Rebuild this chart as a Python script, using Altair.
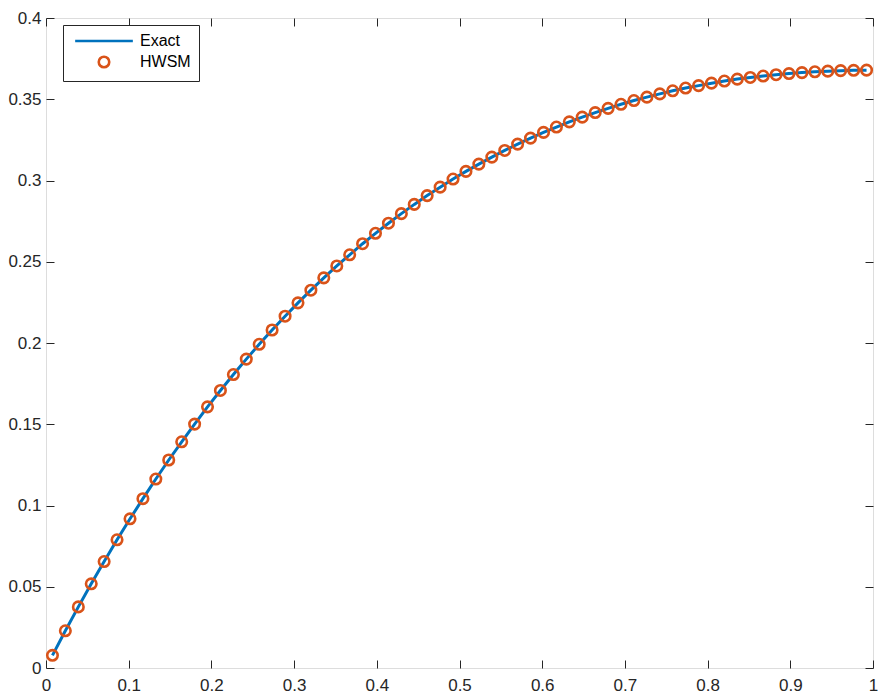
import altair as alt
import pandas as pd

x_vals = [0.0078, 0.0234, 0.0391, 0.0547, 0.0703, 0.0859, 0.1016, 0.1172,
          0.1328, 0.1484, 0.1641, 0.1797, 0.1953, 0.2109, 0.2266, 0.2422,
          0.2578, 0.2734, 0.2891, 0.3047, 0.3203, 0.3359, 0.3516, 0.3672,
          0.3828, 0.3984, 0.4141, 0.4297, 0.4453, 0.4609, 0.4766, 0.4922,
          0.5078, 0.5234, 0.5391, 0.5547, 0.5703, 0.5859, 0.6016, 0.6172,
          0.6328, 0.6484, 0.6641, 0.6797, 0.6953, 0.7109, 0.7266, 0.7422,
          0.7578, 0.7734, 0.7891, 0.8047, 0.8203, 0.8359, 0.8516, 0.8672,
          0.8828, 0.8984, 0.9141, 0.9297, 0.9453, 0.9609, 0.9766, 0.9922]
exact_vals = [0.0078, 0.0229, 0.0376, 0.0518, 0.0655, 0.0789, 0.0918, 0.1042,
              0.1163, 0.1280, 0.1392, 0.1501, 0.1607, 0.1708, 0.1806, 0.1901,
              0.1992, 0.2080, 0.2165, 0.2247, 0.2325, 0.2401, 0.2474, 0.2543,
              0.2611, 0.2675, 0.2737, 0.2796, 0.2853, 0.2907, 0.2959, 0.3009,
              0.3056, 0.3101, 0.3144, 0.3185, 0.3224, 0.3261, 0.3296, 0.3329,
              0.3361, 0.3390, 0.3418, 0.3444, 0.3469, 0.3492, 0.3513, 0.3533,
              0.3552, 0.3569, 0.3584, 0.3599, 0.3612, 0.3624, 0.3634, 0.3643,
              0.3651, 0.3658, 0.3664, 0.3669, 0.3673, 0.3676, 0.3678, 0.3679]
hwsm_vals = list(exact_vals)

series_names = ["Exact", "HWSM"]
x_ticks = [0, 0.1, 0.2, 0.3, 0.4, 0.5, 0.6, 0.7, 0.8, 0.9, 1]
y_ticks = [0, 0.05, 0.1, 0.15, 0.2, 0.25, 0.3, 0.35, 0.4]

df_line = pd.DataFrame({"x": x_vals, "y": exact_vals, "series": "Exact"})
df_pts = pd.DataFrame({"x": x_vals, "y": hwsm_vals, "series": "HWSM"})

BLUE = "#0072BD"
ORANGE = "#D95319"
TXT = "#262626"
FONT = "Liberation Sans"
TICK = 8

xscale = alt.Scale(domain=[0, 1], nice=False, zero=False)
yscale = alt.Scale(domain=[0, 0.4], nice=False, zero=False)
color_scale = alt.Scale(domain=series_names, range=[BLUE, ORANGE])
shape_scale = alt.Scale(domain=series_names, range=["M-5.5,0H5.5", "circle"])

legend = alt.Legend(
    title=None, orient="none", legendX=17, legendY=7,
    strokeColor=TXT, fillColor="white", padding=8,
    symbolSize=110, symbolStrokeWidth=2.6, symbolOffset=25,
    labelFont=FONT, labelFontSize=16, labelColor="black",
    rowPadding=2, labelOffset=28,
)

line = alt.Chart(df_line).mark_line(strokeWidth=3).encode(
    x=alt.X("x:Q", scale=xscale, axis=alt.Axis(
        orient="bottom", values=x_ticks, format=".2~f", title=None,
        domain=False, grid=False, offset=-TICK, tickSize=TICK, tickColor=TXT,
        labelFont=FONT, labelFontSize=17, labelColor=TXT, labelPadding=9,
        labelFlush=False)),
    y=alt.Y("y:Q", scale=yscale, axis=alt.Axis(
        orient="left", values=y_ticks, format=".2~f", title=None,
        domain=False, grid=False, offset=-TICK, tickSize=TICK, tickColor=TXT,
        labelFont=FONT, labelFontSize=17, labelColor=TXT, labelPadding=5,
        labelFlush=False)),
    color=alt.Color("series:N", scale=color_scale, legend=legend),
)

points = alt.Chart(df_pts).mark_point(
    filled=False, size=110, strokeWidth=2.6, opacity=1
).encode(
    x=alt.X("x:Q", scale=xscale, axis=alt.Axis(
        orient="top", values=x_ticks, title=None, labels=False,
        domain=False, grid=False, offset=-TICK, tickSize=TICK, tickColor=TXT)),
    y=alt.Y("y:Q", scale=yscale, axis=alt.Axis(
        orient="right", values=y_ticks, title=None, labels=False,
        domain=False, grid=False, offset=-TICK, tickSize=TICK, tickColor=TXT)),
    color=alt.Color("series:N", scale=color_scale, legend=legend),
    shape=alt.Shape("series:N", scale=shape_scale, legend=legend),
)

chart = alt.layer(line, points).resolve_axis(
    x="independent", y="independent"
).resolve_scale(x="shared", y="shared").properties(
    width=827, height=650,
    padding={"left": 38, "top": 10, "right": 5, "bottom": 28},
    autosize=alt.AutoSizeParams(type="none"),
).configure_view(stroke=TXT, strokeWidth=1).configure(background="white")

chart.save("out.html", embed_options={"renderer": "svg", "actions": False})
